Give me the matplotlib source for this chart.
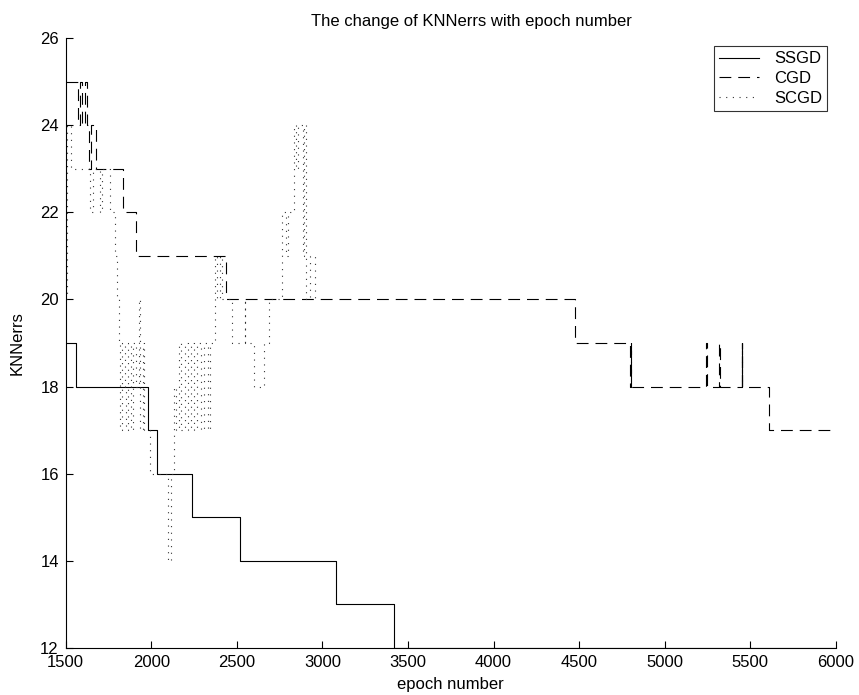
import matplotlib
matplotlib.use("Agg")
import matplotlib.pyplot as plt

plt.rcParams["font.family"] = ["Liberation Sans", "DejaVu Sans"]
plt.rcParams["lines.scale_dashes"] = False

# step breakpoints: value holds from x[i] until x[i+1]
ssgd_epoch = [1500, 1560, 1980, 2034, 2238, 2518, 3079, 3418, 6000]
ssgd_err = [19, 18, 17, 16, 15, 14, 13, 12, 12]

cgd_epoch = [1500, 1572, 1585, 1598, 1610, 1622, 1636, 1650, 1677, 1835, 1911,
             2437, 4475, 4800, 4803, 4806, 5240, 5250, 5320, 5325,
             5450, 5451, 5452, 5453, 5609, 6000]
cgd_err = [25, 24, 25, 24, 25, 24, 23, 24, 23, 22, 21,
           20, 19, 18, 19, 18, 19, 18, 19, 18,
           19, 18, 19, 18, 17, 17]

scgd_epoch = [1500, 1505, 1530, 1640, 1660, 1700, 1710, 1760, 1790, 1800,
              1810, 1820, 1830, 1845, 1855, 1865, 1880, 1895, 1910, 1930,
              1935, 1950, 1960, 1995, 2100, 2115, 2130, 2145, 2160, 2175,
              2195, 2215, 2230, 2250, 2270, 2290, 2310, 2330, 2345, 2372,
              2385, 2400, 2413, 2470, 2545, 2550, 2600, 2660, 2690, 2765,
              2790, 2800, 2835, 2845, 2855, 2886, 2895, 2904, 2927, 2956,
              2980]
scgd_err = [20, 24, 23, 22, 23, 22, 23, 22, 21, 20,
            19, 17, 19, 18, 17, 19, 17, 19, 18, 20,
            17, 19, 17, 16, 14, 16, 18, 17, 19, 17,
            19, 17, 19, 17, 19, 17, 19, 17, 19, 21,
            20, 21, 20, 19, 20, 19, 18, 19, 20, 22,
            21, 22, 24, 23, 24, 21, 24, 20, 21, 20,
            20]

fig = plt.figure(figsize=(8.59, 6.95), dpi=100)
ax = fig.add_axes([0.0765, 0.0676, 0.8965, 0.8777])

ax.plot(ssgd_epoch, ssgd_err, drawstyle="steps-post", color="black",
        linewidth=0.8, label="SSGD")
ax.plot(cgd_epoch, cgd_err, drawstyle="steps-post", color="black",
        linewidth=0.8, linestyle=(0, (8.5, 5.0)), label="CGD")
ax.plot(scgd_epoch, scgd_err, drawstyle="steps-post", color="#333333",
        linewidth=0.8, linestyle=(0, (0.8, 4.0)), label="SCGD")

ax.set_xlim(1500, 6000)
ax.set_ylim(12, 26)
ax.set_xticks(range(1500, 6001, 500))
ax.set_yticks(range(12, 27, 2))
ax.tick_params(direction="in", length=5, width=0.8, labelsize=12)
ax.tick_params(axis="x", pad=5)
ax.tick_params(axis="y", pad=5)
for side in ("top", "right"):
    ax.spines[side].set_visible(False)
for side in ("left", "bottom"):
    ax.spines[side].set_linewidth(0.8)

ax.set_title("The change of KNNerrs with epoch number", fontsize=12, pad=9,
             x=0.527)
ax.set_xlabel("epoch number", fontsize=12, labelpad=5)
ax.set_ylabel("KNNerrs", fontsize=12, labelpad=11)

leg = ax.legend(loc="upper right", fontsize=12, frameon=True, fancybox=False,
                handlelength=2.4, handletextpad=0.9, borderpad=0.3,
                labelspacing=0.28, borderaxespad=0.5)
leg.get_frame().set_edgecolor("black")
leg.get_frame().set_linewidth(0.8)

fig.savefig("out.png", dpi=100)
